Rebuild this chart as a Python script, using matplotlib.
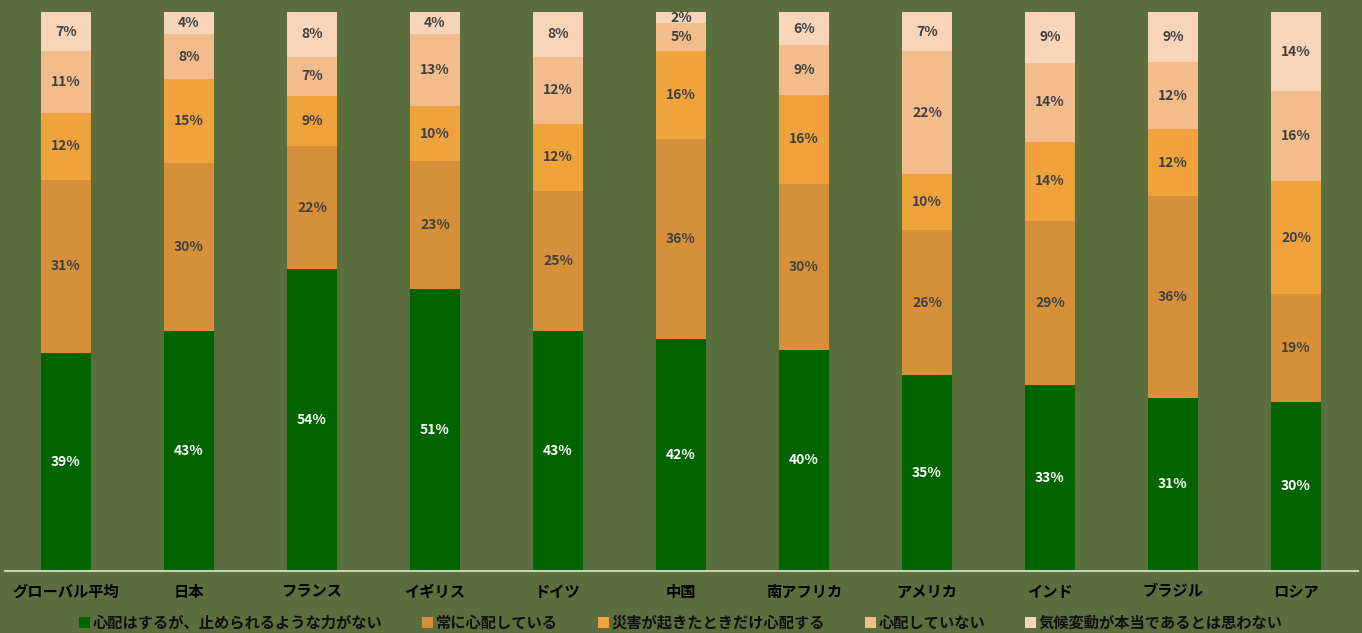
import numpy as np
import matplotlib.pyplot as plt

plt.rcParams['font.family'] = ['Noto Sans CJK JP', 'DejaVu Sans']

countries = ['グローバル平均', '日本', 'フランス', 'イギリス', 'ドイツ', '中国',
             '南アフリカ', 'アメリカ', 'インド', 'ブラジル', 'ロシア']

series_names = ['心配はするが、止められるような力がない', '常に心配している',
                '災害が起きたときだけ心配する', '心配していない',
                '気候変動が本当であるとは思わない']

powerless = [39, 43, 54, 51, 43, 42, 40, 35, 33, 31, 30]
always_worried = [31, 30, 22, 23, 25, 36, 30, 26, 29, 36, 19]
disaster_only = [12, 15, 9, 10, 12, 16, 16, 10, 14, 12, 20]
not_worried = [11, 8, 7, 13, 12, 5, 9, 22, 14, 12, 16]
not_real = [7, 4, 8, 4, 8, 2, 6, 7, 9, 9, 14]

colors = ['#006400', '#D6903A', '#F0A33D', '#F2BC8C', '#F8D4B8']
label_colors = ['white', '#404040', '#404040', '#404040', '#404040']
bg = '#5A6E3E'

data = np.array([powerless, always_worried, disaster_only, not_worried, not_real], dtype=float)
shares = data / data.sum(axis=0)

fig = plt.figure(figsize=(13.62, 6.33), dpi=100)
fig.patch.set_facecolor(bg)
ax = fig.add_axes([4.5 / 1362, 62 / 633, 1353 / 1362, 559 / 633])
ax.set_facecolor(bg)

x = np.arange(len(countries))
bottom = np.zeros(len(countries))
for i, name in enumerate(series_names):
    ax.bar(x, shares[i], width=0.41, bottom=bottom, color=colors[i], label=name)
    for j in range(len(countries)):
        ax.text(x[j], bottom[j] + shares[i][j] / 2, f'{int(data[i][j])}%',
                ha='center', va='center', fontsize=10, fontweight='bold',
                color=label_colors[i])
    bottom += shares[i]

ax.set_xlim(-0.5, len(countries) - 0.5)
ax.set_ylim(0, 1)
ax.set_yticks([])
ax.set_xticks(x)
ax.set_xticklabels(countries, fontsize=11, fontweight='bold', color='black')
ax.tick_params(axis='x', length=0, pad=9)
for s in ['top', 'right', 'left']:
    ax.spines[s].set_visible(False)
ax.spines['bottom'].set_color('#C8D0B8')
ax.spines['bottom'].set_linewidth(1.5)

leg = fig.legend(loc='center', ncol=5, bbox_to_anchor=(0.5, 0.016),
                 frameon=False, handlelength=0.7, handleheight=0.7,
                 handletextpad=0.2, columnspacing=2.6,
                 prop={'size': 11, 'weight': 'bold'})
for t in leg.get_texts():
    t.set_color('#111111')

fig.savefig('out.png', dpi=100, facecolor=bg)
